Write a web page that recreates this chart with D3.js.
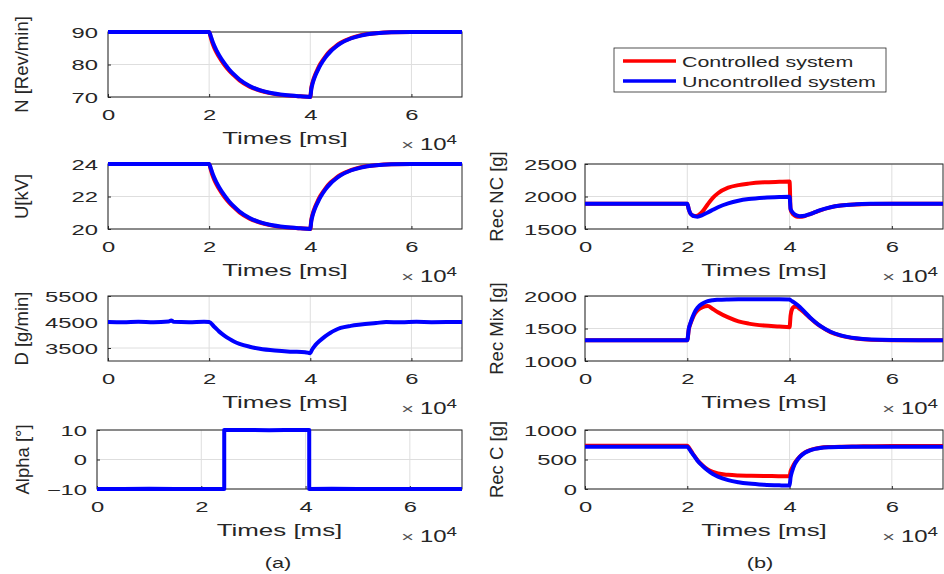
<!DOCTYPE html>
<html>
<head>
<meta charset="utf-8">
<script src="https://cdn.jsdelivr.net/npm/d3@7"></script>
<style>
  body { margin: 0; background: #fff; }
  svg text { font-family: "Liberation Sans", Arial, sans-serif; fill: #262626; }
</style>
</head>
<body>
<div id="chart"></div>
<script>
// time axis in units of 1e4 ms
const times = [0, 1, 2.0, 2.03, 2.06, 2.1, 2.15, 2.2, 2.3, 2.4, 2.5, 2.6, 2.8, 3.0, 3.2, 3.5, 3.8, 4.0,
               4.02, 4.05, 4.1, 4.15, 4.2, 4.3, 4.4, 4.5, 4.6, 4.8, 5.0, 5.3, 5.6, 6.0, 7.0];

const nControlled   = [90, 90, 90, 88.4, 86.8, 85.2, 83.6, 82.2, 79.9, 78.0, 76.5, 75.1, 73.2, 72.0, 71.2, 70.5, 70.2, 70.0,
                       72.8, 74.8, 77.0, 78.7, 80.2, 82.5, 84.3, 85.6, 86.7, 88.1, 89.0, 89.6, 89.9, 90, 90];
const nUncontrolled = [90, 90, 90, 88.8, 87.4, 85.8, 84.2, 82.8, 80.4, 78.4, 76.8, 75.4, 73.4, 72.1, 71.3, 70.6, 70.2, 70.0,
                       72.4, 74.4, 76.6, 78.3, 79.8, 82.2, 84.0, 85.4, 86.5, 88.0, 88.9, 89.6, 89.9, 90, 90];

const uControlled   = [24, 24, 24, 23.68, 23.36, 23.04, 22.72, 22.44, 21.98, 21.6, 21.3, 21.02, 20.64, 20.4, 20.24, 20.1, 20.04, 20.0,
                       20.56, 20.96, 21.4, 21.74, 22.04, 22.5, 22.86, 23.12, 23.34, 23.62, 23.8, 23.92, 23.98, 24, 24];
const uUncontrolled = [24, 24, 24, 23.76, 23.48, 23.16, 22.84, 22.56, 22.08, 21.68, 21.36, 21.08, 20.68, 20.42, 20.26, 20.12, 20.04, 20.0,
                       20.48, 20.88, 21.32, 21.66, 21.96, 22.44, 22.8, 23.08, 23.3, 23.6, 23.78, 23.92, 23.98, 24, 24];

const dTimes        = [0, 0.3, 0.6, 0.9, 1.2, 1.25, 1.3, 1.6, 1.9, 2.0, 2.1, 2.2, 2.3, 2.4, 2.5, 2.6, 2.8, 3.0, 3.3, 3.6, 3.9, 4.0,
                       4.03, 4.1, 4.2, 4.3, 4.4, 4.5, 4.6, 4.8, 5.0, 5.3, 5.5, 5.8, 6.1, 6.4, 6.7, 7.0];
const dUncontrolled = [4500, 4490, 4510, 4495, 4520, 4560, 4505, 4495, 4510, 4500, 4320, 4130, 3980, 3850, 3740, 3660, 3550, 3470, 3400, 3360, 3340, 3300,
                       3420, 3610, 3800, 3960, 4090, 4190, 4270, 4350, 4400, 4460, 4500, 4490, 4505, 4495, 4500, 4500];

const alphaTimes        = [0, 0.5, 1.0, 1.5, 2.0, 2.44, 2.44, 3.0, 3.3, 3.6, 4.07, 4.07, 4.5, 5.0, 6.0, 7.0];
const alphaUncontrolled = [-10, -10, -9.9, -10, -10, -10, 10, 10, 9.9, 10, 10, -10, -9.9, -10, -10, -10];

const recNcControlled   = [1890, 1890, 1890, 1800, 1740, 1710, 1700, 1705, 1770, 1880, 1980, 2050, 2135, 2175, 2198, 2218, 2226, 2230,
                           1800, 1745, 1705, 1690, 1688, 1700, 1728, 1758, 1788, 1833, 1860, 1878, 1886, 1890, 1890];
const recNcUncontrolled = [1890, 1890, 1890, 1800, 1740, 1710, 1695, 1690, 1715, 1755, 1795, 1835, 1895, 1935, 1960, 1982, 1993, 1997,
                           1810, 1765, 1725, 1705, 1698, 1705, 1730, 1760, 1790, 1835, 1862, 1880, 1887, 1890, 1890];

const recMixControlled   = [1320, 1320, 1320, 1490, 1570, 1650, 1730, 1780, 1830, 1845, 1800, 1750, 1670, 1610, 1575, 1545, 1530, 1520,
                            1700, 1800, 1840, 1830, 1800, 1735, 1660, 1595, 1535, 1445, 1390, 1345, 1325, 1318, 1318];
const recMixUncontrolled = [1320, 1320, 1320, 1500, 1580, 1670, 1760, 1820, 1885, 1920, 1935, 1942, 1948, 1950, 1950, 1950, 1950, 1948,
                            1935, 1920, 1895, 1865, 1830, 1750, 1670, 1600, 1540, 1450, 1395, 1350, 1330, 1322, 1320];

const recCControlled   = [735, 735, 735, 705, 665, 610, 548, 488, 400, 330, 290, 262, 240, 230, 225, 220, 218, 215,
                          300, 360, 440, 500, 550, 620, 660, 685, 700, 712, 718, 722, 725, 728, 730];
const recCUncontrolled = [715, 715, 715, 690, 650, 600, 540, 480, 390, 315, 255, 210, 150, 115, 92, 72, 62, 58,
                          200, 300, 420, 490, 545, 615, 655, 680, 695, 708, 713, 716, 718, 718, 718];

const xTicks = [0, 2, 4, 6];
const legendLabels = ["Controlled system", "Uncontrolled system"];
const captions = ["(a)", "(b)"];

const RED = "#ff0000", BLUE = "#0000ff", INK = "#262626", GRID = "#dedede";
const SX = 1.7; // the figure's horizontal text is stretched

const zip = (xs, ys) => xs.map((t, i) => [t, ys[i]]);

const panels = [
  { x0: 108, x1: 462, y0: 32,  y1: 97,  dom: [70, 90],     ticks: [70, 80, 90],       label: "N [Rev/min]", lx: 28,
    series: [[zip(times, nControlled), RED], [zip(times, nUncontrolled), BLUE]] },
  { x0: 108, x1: 462, y0: 164, y1: 229, dom: [20, 24],     ticks: [20, 22, 24],       label: "U[kV]", lx: 28,
    series: [[zip(times, uControlled), RED], [zip(times, uUncontrolled), BLUE]] },
  { x0: 108, x1: 462, y0: 296, y1: 361, dom: [3000, 5500], ticks: [3500, 4500, 5500], label: "D [g/min]", lx: 28,
    series: [[zip(dTimes, dUncontrolled), BLUE]] },
  { x0: 97,  x1: 462, y0: 430, y1: 489, dom: [-10, 10],    ticks: [-10, 0, 10],       label: "Alpha [°]", lx: 29, step: true,
    series: [[zip(alphaTimes, alphaUncontrolled), BLUE]] },
  { x0: 585, x1: 943, y0: 164, y1: 229, dom: [1500, 2500], ticks: [1500, 2000, 2500], label: "Rec NC [g]", lx: 503,
    series: [[zip(times, recNcControlled), RED], [zip(times, recNcUncontrolled), BLUE]] },
  { x0: 585, x1: 943, y0: 296, y1: 361, dom: [1000, 2000], ticks: [1000, 1500, 2000], label: "Rec Mix [g]", lx: 503,
    series: [[zip(times, recMixControlled), RED], [zip(times, recMixUncontrolled), BLUE]] },
  { x0: 585, x1: 943, y0: 430, y1: 489, dom: [0, 1000],    ticks: [0, 500, 1000],     label: "Rec C [g]", lx: 503,
    series: [[zip(times, recCControlled), RED], [zip(times, recCUncontrolled), BLUE]] }
];

const svg = d3.select("#chart").append("svg")
  .attr("width", 944)
  .attr("height", 574);

function stretched(parent, x, y, str, size, anchor, sx) {
  return parent.append("text")
    .attr("transform", `translate(${x},${y}) scale(${sx},1)`)
    .attr("text-anchor", anchor)
    .style("font-size", size + "px")
    .text(str);
}

function drawPanel(p) {
  const w = p.x1 - p.x0, h = p.y1 - p.y0;
  const x = d3.scaleLinear().domain([0, 7]).range([0, w]);
  const y = d3.scaleLinear().domain(p.dom).range([h, 0]);
  const g = svg.append("g").attr("transform", `translate(${p.x0},${p.y0})`);

  // grid
  g.selectAll(".vg").data(xTicks).join("line")
    .attr("x1", d => x(d)).attr("x2", d => x(d))
    .attr("y1", 0).attr("y2", h)
    .attr("stroke", GRID).attr("stroke-width", 1);
  g.selectAll(".hg").data(p.ticks).join("line")
    .attr("x1", 0).attr("x2", w)
    .attr("y1", d => y(d)).attr("y2", d => y(d))
    .attr("stroke", GRID).attr("stroke-width", 1);

  // box
  g.append("rect")
    .attr("width", w).attr("height", h)
    .attr("fill", "none").attr("stroke", INK).attr("stroke-width", 1);

  // axes
  const gx = g.append("g").attr("transform", `translate(0,${h})`)
    .call(d3.axisBottom(x).tickValues(xTicks).tickSize(-3).tickPadding(0).tickFormat(d3.format("d")));
  gx.select(".domain").remove();
  gx.selectAll(".tick line").attr("stroke", INK);
  gx.selectAll(".tick text")
    .attr("y", null).attr("dy", null)
    .attr("transform", `translate(0,23) scale(${SX},1)`)
    .style("font-size", "14px");

  const gy = g.append("g")
    .call(d3.axisLeft(y).tickValues(p.ticks).tickSize(-3).tickPadding(0).tickFormat(d3.format("d")));
  gy.select(".domain").remove();
  gy.selectAll(".tick line").attr("stroke", INK);
  gy.selectAll(".tick text")
    .attr("x", null).attr("dy", "0.36em")
    .attr("transform", `translate(${p.x0 > 500 ? -8 : -10},0) scale(${SX},1)`)
    .style("font-size", "14px");

  // series
  const line = d3.line()
    .x(d => x(d[0]))
    .y(d => y(d[1]))
    .curve(p.step ? d3.curveLinear : d3.curveMonotoneX);
  p.series.forEach(([data, color]) => {
    g.append("path")
      .datum(data)
      .attr("fill", "none")
      .attr("stroke", color)
      .attr("stroke-width", 4)
      .attr("stroke-linejoin", "round")
      .attr("d", line);
  });

  // x label and exponent
  stretched(g, w / 2, h + 47, "Times [ms]", 16, "middle", 1.62);
  const ex = g.append("text")
    .attr("transform", `translate(${w - 5},${h + 53}) scale(1.45,1)`)
    .attr("text-anchor", "end");
  ex.append("tspan").style("font-size", "15px").attr("fill", "#555").text("× ");
  ex.append("tspan").style("font-size", "16.5px").text("10");
  ex.append("tspan").style("font-size", "13px").attr("dy", -6).text("4");

  // y label (not stretched)
  svg.append("text")
    .attr("transform", `translate(${p.lx},${(p.y0 + p.y1) / 2}) rotate(-90)`)
    .attr("text-anchor", "middle")
    .style("font-size", "18.5px")
    .text(p.label);
}

panels.forEach(drawPanel);

// legend
const lg = svg.append("g");
lg.append("rect")
  .attr("x", 614).attr("y", 48).attr("width", 272).attr("height", 44)
  .attr("fill", "#fff").attr("stroke", INK).attr("stroke-width", 0.8);
[RED, BLUE].forEach((c, i) => {
  lg.append("line")
    .attr("x1", 623).attr("x2", 676)
    .attr("y1", 61 + i * 20).attr("y2", 61 + i * 20)
    .attr("stroke", c).attr("stroke-width", 3.6);
  stretched(lg, 682, 66.5 + i * 20, legendLabels[i], 14, "start", 1.53);
});

// captions
stretched(svg, 278, 568, captions[0], 15, "middle", 1.45);
stretched(svg, 760, 568, captions[1], 15, "middle", 1.45);
</script>
</body>
</html>
